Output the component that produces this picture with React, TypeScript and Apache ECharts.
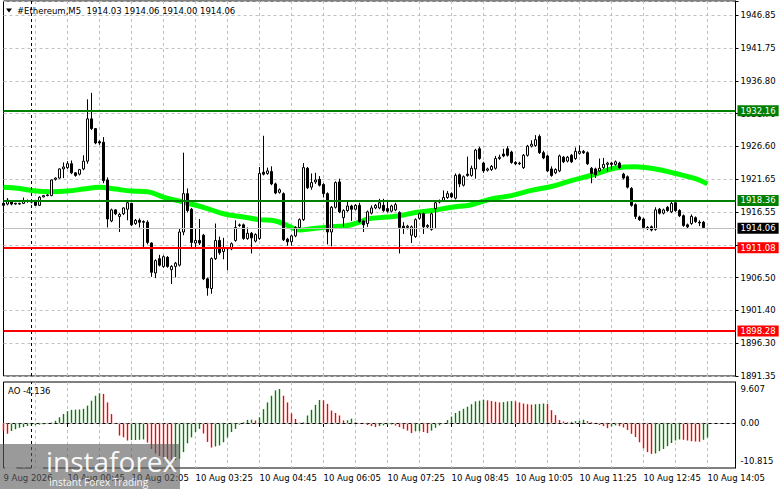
import React, { useEffect, useRef } from 'react';
import * as echarts from 'echarts';

const FONT = 'DejaVu Sans';

const symbolTitle = '#Ethereum,M5';
const firstDateLabel = '9 Aug 2026';
const startMinuteOfDay = 23 * 60 + 25; // first bar: 9 Aug 23:25
const barMinutes = 5;
const emptyBars = 7;

// [open, close, low, high]
const candles: number[][] = [
  [1917.9, 1917.6, 1917.0, 1918.1], [1917.8, 1918.4, 1917.6, 1918.7], [1918.3, 1917.8, 1917.6, 1918.4], [1917.9, 1917.8, 1917.7, 1918.0],
  [1917.8, 1917.9, 1917.7, 1918.0], [1917.9, 1918.3, 1917.8, 1918.8], [1918.3, 1918.2, 1918.0, 1918.5], [1918.2, 1918.1, 1917.9, 1918.4],
  [1918.3, 1917.6, 1917.5, 1918.4], [1917.6, 1918.85, 1917.5, 1919.0], [1918.9, 1919.1, 1918.8, 1919.2], [1919.1, 1919.2, 1919.0, 1919.3],
  [1919.1, 1921.5, 1919.0, 1921.6], [1921.6, 1921.8, 1921.4, 1921.9], [1921.8, 1923.2, 1921.7, 1923.3], [1923.2, 1923.5, 1921.8, 1924.2],
  [1923.4, 1924.0, 1923.2, 1924.4], [1924.0, 1922.6, 1922.4, 1924.5], [1922.6, 1922.2, 1922.0, 1922.7], [1922.4, 1923.1, 1922.2, 1923.2],
  [1923.2, 1924.4, 1923.0, 1925.3], [1924.4, 1930.9, 1924.0, 1933.9], [1930.9, 1929.4, 1929.2, 1934.9], [1929.4, 1927.2, 1927.0, 1929.5],
  [1927.4, 1927.2, 1926.9, 1927.6], [1927.3, 1921.4, 1921.0, 1928.1], [1921.5, 1915.5, 1914.2, 1921.9], [1915.2, 1916.9, 1915.0, 1917.1],
  [1916.9, 1916.3, 1916.1, 1917.0], [1915.9, 1916.2, 1913.5, 1916.4], [1916.3, 1917.2, 1916.1, 1917.3], [1917.0, 1918.0, 1915.3, 1918.2],
  [1917.9, 1914.6, 1914.4, 1918.0], [1914.8, 1915.3, 1914.6, 1915.5], [1915.3, 1915.0, 1914.2, 1915.6], [1915.1, 1915.0, 1911.2, 1915.3],
  [1915.0, 1911.9, 1911.6, 1915.3], [1911.8, 1907.3, 1906.6, 1911.9], [1907.2, 1909.1, 1906.4, 1909.3], [1909.4, 1908.4, 1908.2, 1910.0],
  [1908.2, 1909.7, 1908.0, 1909.9], [1909.6, 1908.2, 1908.0, 1909.8], [1907.7, 1908.2, 1905.5, 1908.4], [1908.2, 1908.7, 1906.5, 1908.9],
  [1908.4, 1913.5, 1908.2, 1914.1], [1913.5, 1919.4, 1913.0, 1925.7], [1919.4, 1916.8, 1916.5, 1920.2], [1917.0, 1911.9, 1911.2, 1917.2],
  [1911.8, 1912.2, 1911.0, 1914.1], [1912.2, 1911.8, 1911.5, 1915.5], [1913.0, 1906.3, 1906.1, 1913.2], [1906.3, 1904.9, 1903.7, 1906.5],
  [1904.8, 1909.4, 1904.0, 1909.6], [1909.4, 1912.2, 1909.2, 1914.8], [1912.2, 1910.3, 1910.0, 1912.8], [1910.5, 1911.0, 1909.3, 1912.6],
  [1911.0, 1910.9, 1907.6, 1911.2], [1910.9, 1911.7, 1910.7, 1911.9], [1912.2, 1914.2, 1912.0, 1915.3], [1914.5, 1914.6, 1914.3, 1914.8],
  [1914.6, 1912.5, 1912.3, 1914.8], [1912.5, 1913.3, 1912.3, 1914.2], [1913.3, 1912.6, 1910.2, 1913.5], [1912.1, 1913.1, 1911.9, 1913.3],
  [1912.5, 1922.5, 1912.3, 1923.5], [1922.7, 1922.4, 1922.2, 1928.3], [1922.5, 1922.9, 1922.3, 1923.4], [1922.8, 1920.9, 1920.7, 1923.6],
  [1920.9, 1919.5, 1919.3, 1921.1], [1919.6, 1920.0, 1919.4, 1920.2], [1919.4, 1912.3, 1912.1, 1919.6], [1912.4, 1912.0, 1911.4, 1912.6],
  [1912.0, 1912.9, 1911.4, 1913.1], [1912.9, 1914.2, 1912.7, 1914.4], [1914.2, 1915.4, 1914.0, 1915.6], [1915.4, 1923.4, 1915.2, 1924.1],
  [1923.3, 1920.3, 1920.1, 1923.5], [1920.4, 1921.1, 1920.0, 1922.5], [1921.2, 1921.5, 1920.9, 1922.6], [1921.6, 1920.7, 1920.5, 1922.1],
  [1920.8, 1919.4, 1918.8, 1921.0], [1919.4, 1913.5, 1911.6, 1919.6], [1913.5, 1917.3, 1911.3, 1917.5], [1917.3, 1921.1, 1917.1, 1921.3],
  [1921.2, 1916.6, 1916.4, 1921.7], [1915.7, 1916.8, 1914.3, 1917.0], [1916.8, 1917.5, 1916.6, 1918.2], [1917.5, 1917.0, 1915.2, 1917.7],
  [1917.0, 1917.6, 1916.8, 1917.8], [1917.6, 1915.1, 1914.9, 1918.0], [1915.2, 1914.6, 1913.5, 1915.4], [1914.8, 1916.6, 1914.3, 1916.8],
  [1916.4, 1917.2, 1916.2, 1917.6], [1917.2, 1917.6, 1917.0, 1917.8], [1917.2, 1918.0, 1917.0, 1918.6], [1917.6, 1916.8, 1916.6, 1918.6],
  [1917.1, 1916.7, 1916.5, 1918.4], [1916.7, 1917.5, 1916.5, 1917.7], [1916.9, 1917.7, 1916.7, 1918.0], [1916.5, 1914.2, 1910.2, 1916.7],
  [1914.4, 1914.1, 1913.2, 1915.0], [1914.2, 1914.4, 1913.9, 1914.6], [1913.0, 1914.3, 1911.8, 1914.5], [1912.8, 1915.4, 1912.6, 1915.6],
  [1915.6, 1916.3, 1915.4, 1916.5], [1916.3, 1914.3, 1913.2, 1916.5], [1914.3, 1914.5, 1914.1, 1914.7], [1913.9, 1916.3, 1913.7, 1916.5],
  [1917.1, 1918.0, 1914.0, 1918.2], [1918.1, 1918.3, 1917.9, 1918.5], [1918.3, 1918.8, 1918.1, 1919.9], [1918.8, 1919.4, 1918.6, 1919.8],
  [1919.4, 1918.9, 1918.7, 1919.6], [1918.7, 1922.2, 1918.5, 1922.5], [1922.3, 1920.9, 1920.4, 1922.5], [1920.7, 1922.0, 1920.5, 1922.2],
  [1922.4, 1922.2, 1922.0, 1925.1], [1922.2, 1923.3, 1922.0, 1923.7], [1923.2, 1926.1, 1921.7, 1926.3], [1926.3, 1924.8, 1924.6, 1926.6],
  [1924.1, 1922.9, 1922.6, 1924.3], [1923.0, 1923.2, 1922.8, 1923.4], [1923.1, 1923.6, 1922.9, 1923.8], [1923.3, 1924.8, 1923.1, 1925.2],
  [1924.8, 1925.0, 1924.6, 1925.4], [1925.5, 1925.2, 1925.0, 1926.3], [1926.3, 1925.3, 1925.1, 1926.7], [1925.8, 1924.2, 1924.0, 1926.0],
  [1924.2, 1924.0, 1923.8, 1924.4], [1924.0, 1924.1, 1923.8, 1924.3], [1923.4, 1925.3, 1923.2, 1925.5], [1925.3, 1926.7, 1925.1, 1926.9],
  [1926.7, 1927.0, 1926.5, 1927.6], [1926.8, 1927.7, 1926.6, 1928.4], [1928.2, 1925.7, 1925.5, 1928.5], [1925.7, 1924.9, 1924.7, 1926.0],
  [1925.2, 1922.9, 1922.7, 1925.4], [1923.2, 1922.2, 1922.0, 1923.6], [1922.6, 1923.1, 1922.4, 1923.3], [1922.9, 1925.2, 1922.7, 1925.4],
  [1925.0, 1924.3, 1924.1, 1925.2], [1924.4, 1925.0, 1924.2, 1925.2], [1925.3, 1924.3, 1924.1, 1925.5], [1924.8, 1925.9, 1924.6, 1926.5],
  [1925.6, 1925.9, 1925.4, 1926.8], [1925.9, 1925.7, 1925.5, 1926.1], [1925.7, 1924.0, 1923.8, 1925.9], [1923.3, 1922.5, 1921.0, 1923.5],
  [1923.2, 1922.3, 1921.8, 1923.4], [1922.9, 1923.3, 1922.7, 1924.8], [1923.4, 1923.9, 1923.2, 1924.9], [1923.9, 1924.1, 1922.8, 1924.3],
  [1924.1, 1923.9, 1923.1, 1924.3], [1923.9, 1924.3, 1923.7, 1924.5], [1924.1, 1923.4, 1923.2, 1924.3], [1922.4, 1921.8, 1921.6, 1922.6],
  [1922.0, 1920.4, 1920.2, 1922.2], [1920.2, 1917.6, 1917.4, 1920.4], [1917.7, 1915.9, 1915.5, 1917.9], [1915.8, 1915.4, 1915.2, 1916.0],
  [1915.5, 1914.2, 1914.0, 1915.7], [1914.2, 1914.0, 1913.8, 1914.4], [1914.3, 1913.8, 1913.6, 1914.5], [1913.9, 1916.9, 1913.7, 1917.3],
  [1917.0, 1916.4, 1916.2, 1917.2], [1916.4, 1916.9, 1916.2, 1917.1], [1917.3, 1916.8, 1916.6, 1917.5], [1916.6, 1917.9, 1916.4, 1918.3],
  [1918.0, 1916.8, 1916.6, 1918.4], [1916.8, 1916.0, 1915.8, 1917.0], [1916.0, 1914.5, 1914.3, 1916.2], [1914.6, 1914.3, 1914.1, 1914.8],
  [1914.8, 1915.9, 1914.6, 1916.2], [1915.7, 1915.1, 1914.9, 1915.9], [1915.0, 1914.9, 1914.4, 1915.3], [1915.0, 1914.2, 1914.0, 1915.2],
  [1914.03, 1914.06, 1914.0, 1914.06],
];

// moving average read at selected bars
const maIndex = [0, 4, 8, 12, 16, 20, 24, 28, 32, 36, 40, 45, 50, 55, 60, 64, 68, 71, 74, 77, 81, 86, 89, 91, 96, 99, 103, 107, 112, 117, 122, 127, 132, 137, 142, 148, 153, 158, 163, 168, 173, 176];
const maValue = [1920.4, 1920.2, 1919.8, 1919.7, 1919.8, 1920.1, 1920.4, 1920.1, 1919.8, 1919.7, 1918.85, 1918.1, 1917.3, 1916.3, 1915.8, 1915.4, 1915.2, 1914.5, 1913.8, 1914.0, 1914.25, 1914.5, 1915.0, 1915.5, 1915.8, 1916.0, 1916.5, 1916.8, 1917.3, 1917.7, 1918.6, 1919.1, 1919.9, 1920.5, 1921.4, 1922.4, 1923.35, 1923.55, 1923.2, 1922.5, 1921.7, 1920.9];

// Awesome Oscillator
const aoValues = [
  -2.2, -3.1, -2.3, -1.8, -1.4, -1.2, -0.9, -0.75, -0.6, -0.5,
  -0.4, -0.1, 0.1, 0.6, 1.6, 2.5, 3.3, 3.7, 3.75, 3.8,
  4.0, 4.9, 6.3, 7.7, 8.4, 8.2, 5.8, 2.5, -0.3, -3.6,
  -4.1, -5.0, -4.9, -4.85, -4.8, -4.7, -5.6, -7.4, -8.7, -9.4,
  -10.0, -10.5, -10.815, -10.6, -10.2, -8.3, -5.8, -4.1, -2.6, -1.7,
  -3.0, -5.4, -7.0, -6.7, -6.4, -5.5, -4.1, -2.6, -1.7, -0.5,
  0.2, 0.85, 0.9, 0.7, 1.6, 3.9, 5.8, 7.7, 9.2, 9.607,
  7.7, 5.8, 2.7, 1.1, 0.1, 0.2, 2.1, 3.7, 5.1, 6.5,
  6.4, 5.4, 3.5, 2.8, 2.1, 0.7, 0.75, 1.2, 0.2, 0.0,
  -0.3, -0.6, -0.9, -1.2, -0.9, -0.7, -0.55, -0.45, -0.75, -1.2,
  -1.7, -2.2, -2.9, -2.4, -2.3, -2.6, -2.9, -2.2, -1.4, -0.7,
  0.0, 0.8, 1.8, 2.8, 3.4, 4.0, 4.6, 5.3, 6.1, 6.3,
  6.6, 6.4, 6.2, 6.0, 5.8, 5.9, 6.1, 6.2, 6.1, 5.8,
  5.5, 5.3, 5.2, 5.3, 5.4, 5.5, 5.4, 3.6, 2.2, 0.8,
  0.4, 0.2, 0.3, 0.5, 0.6, 0.9, 0.5, 0.2, -0.1, -0.6,
  -0.9, -1.5, -1.0, -0.7, -0.9, -1.3, -2.0, -3.1, -4.0, -5.5,
  -7.2, -8.3, -8.8, -8.7, -8.0, -7.4, -6.6, -5.7, -5.0, -4.7,
  -4.8, -5.0, -5.2, -5.3, -5.35, -4.8, -4.136,
];

// price axis (the 1911.xx tick label is hidden behind the level box in the reference)
const priceMin = 1891.35;
const priceStep = 55.5 / 11;
const priceMax = 1949.03;
const priceTickLabels = ['1891.35', '1896.30', '1901.40', '1906.50', '', '1916.55', '1921.65', '1926.60', '1931.70', '1936.80', '1941.75', '1946.85'];

// AO axis
const aoMin = -12.8;
const aoMax = 11.6;
const aoLabelValues = [9.607, 0, -10.815];
const aoLabelTexts = ['9.607', '0.00', '-10.815'];

// horizontal levels
const greenLevels = [1932.16, 1918.36];
const redLevels = [1911.08, 1898.28];

const barCount = candles.length;
const categories: string[] = [];
for (let i = 0; i < barCount + emptyBars; i++) {
  const m = startMinuteOfDay + barMinutes * i;
  const day = m >= 1440 ? '10 Aug' : '9 Aug';
  const mm = m % 1440;
  categories.push(`${day} ${String(Math.floor(mm / 60)).padStart(2, '0')}:${String(mm % 60).padStart(2, '0')}`);
}
const separatorIndex = categories.findIndex((c) => c === '10 Aug 00:00');

const last = candles[barCount - 1];
const titleText = `${symbolTitle}  ${last[0].toFixed(2)} ${last[3].toFixed(2)} ${last[2].toFixed(2)} ${last[1].toFixed(2)}`;
const aoText = `AO ${aoValues[aoValues.length - 1].toFixed(3)}`;
const lastClose = last[1];

const GREEN = '#008000';
const RED = '#ff0000';
const GRID_LINE = { color: '#c0c0c0', type: [3, 3] as number[], width: 1 };

const labelInterval = (idx: number) => idx === 0 || (idx % 16 === 0 && idx < barCount);
const splitInterval = (idx: number) => idx > 0 && idx % 8 === 0;

function levelLine(value: number, color: string, textColor: string, lineColor: string, width: number) {
  return {
    yAxis: value,
    lineStyle: { color: lineColor, width, type: 'solid' },
    label: {
      show: true,
      position: 'end',
      distance: 2,
      formatter: value.toFixed(2),
      color: textColor,
      backgroundColor: color,
      fontFamily: FONT,
      fontSize: 8.5,
      lineHeight: 9,
      padding: [1, 3, 1, 3],
    },
  };
}

function buildOption() {
  const aoData = aoValues.map((v, i) => ({
    value: v,
    itemStyle: { color: i > 0 && v > aoValues[i - 1] ? GREEN : RED },
  }));

  const gearTeeth = [0, 1, 2, 3, 4, 5, 6, 7].map((k) => ({
    type: 'rect',
    rotation: (k * Math.PI) / 4,
    shape: { x: -3, y: -19, width: 6, height: 7 },
    style: { fill: 'rgba(255,255,255,0.92)' },
  }));

  return {
    animation: false,
    backgroundColor: '#ffffff',
    textStyle: { fontFamily: FONT },
    grid: [
      { left: 3.5, right: 45.5, top: 1, height: 375, show: true, borderColor: '#000', borderWidth: 1 },
      { left: 3.5, right: 45.5, top: 382, height: 86, show: true, borderColor: '#000', borderWidth: 1 },
    ],
    xAxis: [
      {
        type: 'category',
        gridIndex: 0,
        data: categories,
        boundaryGap: false,
        axisLine: { show: false },
        axisTick: { show: false },
        axisLabel: { show: false },
        splitLine: { show: true, interval: splitInterval, lineStyle: GRID_LINE },
      },
      {
        type: 'category',
        gridIndex: 1,
        data: categories,
        boundaryGap: false,
        axisLine: { show: true, lineStyle: { color: '#000', width: 1 } },
        axisTick: { show: true, interval: labelInterval, length: 4, lineStyle: { color: '#000' } },
        axisLabel: {
          show: true,
          interval: labelInterval,
          formatter: (val: string, idx: number) => (idx === 0 ? firstDateLabel : val),
          align: 'left',
          color: '#000',
          fontSize: 8.5,
          fontFamily: FONT,
          margin: 5,
        },
        splitLine: { show: true, interval: splitInterval, lineStyle: GRID_LINE },
      },
    ],
    yAxis: [
      {
        type: 'value',
        gridIndex: 0,
        position: 'right',
        min: priceMin,
        max: priceMax,
        interval: priceStep,
        axisLine: { show: true, lineStyle: { color: '#000', width: 1 } },
        axisTick: { show: true, length: 3, lineStyle: { color: '#000' } },
        axisLabel: {
          color: '#000',
          fontSize: 8.5,
          fontFamily: FONT,
          margin: 5,
          formatter: (v: number) => {
            const k = Math.round((v - priceMin) / priceStep);
            if (k < 0 || k >= priceTickLabels.length) return '';
            if (Math.abs(v - (priceMin + k * priceStep)) > 0.01) return '';
            return priceTickLabels[k];
          },
        },
        splitLine: { show: true, lineStyle: GRID_LINE },
      },
      {
        type: 'value',
        gridIndex: 1,
        position: 'right',
        min: aoMin,
        max: aoMax,
        axisLine: { show: true, lineStyle: { color: '#000', width: 1 } },
        axisTick: { show: false },
        axisLabel: { show: false },
        splitLine: { show: false },
      },
    ],
    series: [
      {
        type: 'line',
        name: 'MA',
        xAxisIndex: 0,
        yAxisIndex: 0,
        data: maIndex.map((idx, k) => [idx, maValue[k]]),
        showSymbol: false,
        smooth: 0.4,
        lineStyle: { color: '#00ff00', width: 5 },
        z: 2,
        silent: true,
      },
      {
        type: 'candlestick',
        name: 'ETH',
        xAxisIndex: 0,
        yAxisIndex: 0,
        data: candles,
        barWidth: 2,
        itemStyle: {
          color: '#ffffff',
          color0: '#000000',
          borderColor: '#000000',
          borderColor0: '#000000',
          borderWidth: 1,
        },
        z: 3,
        silent: true,
        markLine: {
          silent: true,
          symbol: ['none', 'none'],
          animation: false,
          data: [
            { xAxis: categories[separatorIndex], lineStyle: { color: '#000', type: [3, 3], width: 1 }, label: { show: false } },
            levelLine(lastClose, '#000000', '#ffffff', '#c0c0c0', 1),
            ...greenLevels.map((v) => levelLine(v, GREEN, '#ffffff', GREEN, 2)),
            ...redLevels.map((v) => levelLine(v, RED, '#ffffff', RED, 2)),
          ],
        },
      },
      {
        type: 'bar',
        name: 'AO',
        xAxisIndex: 1,
        yAxisIndex: 1,
        data: aoData,
        barWidth: 1.4,
        silent: true,
        markLine: {
          silent: true,
          symbol: ['none', 'none'],
          animation: false,
          data: [
            { xAxis: categories[separatorIndex], lineStyle: { color: '#000', type: [3, 3], width: 1 }, label: { show: false } },
            ...aoLabelValues.map((v, k) => ({
              yAxis: v,
              lineStyle: v === 0 ? { color: '#c0c0c0', type: [3, 3], width: 1 } : { color: 'rgba(0,0,0,0)', width: 0 },
              label: {
                show: true,
                position: 'end',
                distance: 5,
                formatter: aoLabelTexts[k],
                color: '#000',
                fontFamily: FONT,
                fontSize: 8.5,
              },
            })),
          ],
        },
      },
    ],
    graphic: [
      { type: 'polygon', z: 100, shape: { points: [[6, 8.5], [12, 8.5], [9, 12.5]] }, style: { fill: '#000' } },
      { type: 'text', z: 100, x: 17, y: 10.5, style: { text: titleText, font: `8.5px "${FONT}"`, fill: '#000', verticalAlign: 'middle' } },
      { type: 'text', z: 100, x: 8, y: 391, style: { text: aoText, font: `8.5px "${FONT}"`, fill: '#000', verticalAlign: 'middle' } },
      { type: 'rect', z: 100, shape: { x: 0, y: 444, width: 180, height: 45 }, style: { fill: 'rgba(92,92,92,0.62)' } },
      {
        type: 'group',
        z: 101,
        x: 24,
        y: 466,
        children: [
          { type: 'ring', shape: { cx: 0, cy: 0, r: 14, r0: 8 }, style: { fill: 'rgba(255,255,255,0.92)' } },
          ...gearTeeth,
          { type: 'circle', shape: { cx: 0, cy: -1.5, r: 3.2 }, style: { fill: 'rgba(255,255,255,0.92)' } },
        ],
      },
      { type: 'text', z: 101, x: 46, y: 461, style: { text: 'instaforex', font: '28px "Open Sans"', fill: 'rgba(255,255,255,0.95)', verticalAlign: 'middle' } },
      { type: 'text', z: 101, x: 49, y: 481.5, style: { text: 'Instant Forex Trading', font: '10px "Open Sans"', fill: 'rgba(255,255,255,0.95)', verticalAlign: 'middle' } },
    ],
  };
}

export default function App() {
  const ref = useRef<HTMLDivElement>(null);
  useEffect(() => {
    if (!ref.current) return;
    const chart = echarts.init(ref.current, null, { renderer: 'svg' });
    chart.setOption(buildOption() as any);
    return () => chart.dispose();
  }, []);
  return <div ref={ref} style={{ position: 'fixed', left: 0, top: 0, width: 781, height: 489, background: '#fff' }} />;
}
